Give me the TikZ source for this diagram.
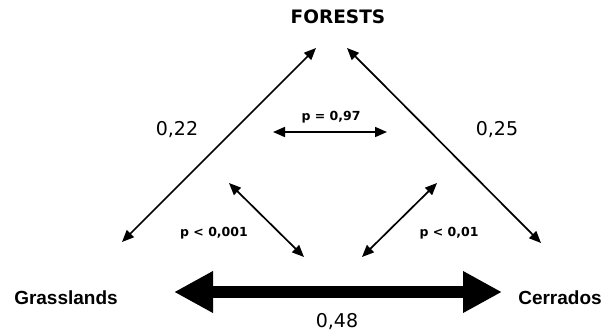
\documentclass[tikz,border=0pt]{standalone}
\usepackage{fontspec}
\setmainfont{DejaVu Sans}
\newfontfamily\helv{Liberation Sans}
\usetikzlibrary{arrows.meta}

\begin{document}
\begin{tikzpicture}[x=1pt,y=-1pt,
  site/.style={anchor=base,inner sep=0pt,font=\helv\fontsize{19}{19}\selectfont\bfseries},
  dist/.style={anchor=base,inner sep=0pt,font=\fontsize{19}{19}\selectfont},
  pval/.style={anchor=base,inner sep=0pt,font=\fontsize{12.5}{12.5}\selectfont\bfseries},
  link/.style={{Triangle[length=12pt,width=10pt]}-{Triangle[length=12pt,width=10pt]},line width=1.7pt}]
\useasboundingbox (0,0) rectangle (616,333);
% habitats
\node[anchor=base,inner sep=0pt,font=\fontsize{18.5}{18.5}\selectfont\bfseries] (F) at (338,23.5) {FORESTS};
\node[site] (G) at (66,304) {Grasslands};
\node[site] (C) at (560,304) {Cerrados};
% arrow ends
\coordinate (fl) at (316,48); \coordinate (gl) at (122,242);
\coordinate (fr) at (347,48); \coordinate (cr) at (541,243);
\coordinate (pa) at (273,132); \coordinate (pb) at (387,132);
\coordinate (la) at (229,183); \coordinate (lb) at (304,257);
\coordinate (ra) at (437,183); \coordinate (rb) at (362,257);
\coordinate (ga) at (174,292); \coordinate (cb) at (502,292);
\foreach \u/\v in {fl/gl,fr/cr,pa/pb,la/lb,ra/rb} \draw[link] (\u)--(\v);
\draw[{Triangle[length=39pt,width=39pt]}-{Triangle[length=39pt,width=39pt]},line width=12pt] (ga)--(cb);
% values
\node[dist] (d1) at (177,135) {0,22};
\node[dist] (d2) at (497,135) {0,25};
\node[dist] (d3) at (337,327) {0,48};
\node[pval] (p1) at (331,120) {p = 0,97};
\node[pval] (p2) at (214,236) {p < 0,001};
\node[pval] (p3) at (449,236) {p < 0,01};
\end{tikzpicture}
\end{document}
